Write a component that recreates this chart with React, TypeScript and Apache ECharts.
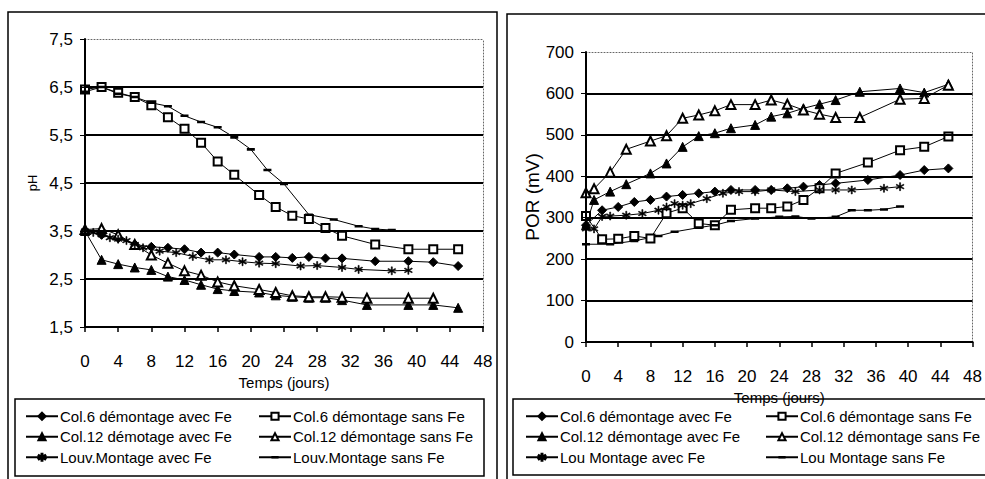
import { useEffect, useRef } from "react";
import * as echarts from "echarts";

// ---------- pH panel (left) ----------
const phCol6AvecDays = [0, 2, 4, 6, 8, 10, 12, 14, 16, 18, 21, 23, 25, 27, 29, 31, 35, 39, 42, 45];
const phCol6AvecVals = [3.5, 3.42, 3.35, 3.22, 3.17, 3.15, 3.12, 3.05, 3.05, 3.01, 2.96, 2.96, 2.94, 2.96, 2.93, 2.93, 2.87, 2.87, 2.85, 2.77];

const phCol6SansDays = [0, 2, 4, 6, 8, 10, 12, 14, 16, 18, 21, 23, 25, 27, 29, 31, 35, 39, 42, 45];
const phCol6SansVals = [6.45, 6.5, 6.38, 6.29, 6.12, 5.87, 5.63, 5.34, 4.95, 4.67, 4.25, 4.0, 3.82, 3.75, 3.56, 3.4, 3.22, 3.12, 3.12, 3.12];

const phCol12AvecDays = [0, 2, 4, 6, 8, 10, 12, 14, 16, 18, 21, 23, 25, 27, 29, 31, 34, 39, 42, 45];
const phCol12AvecVals = [3.5, 2.9, 2.81, 2.74, 2.69, 2.55, 2.48, 2.38, 2.29, 2.25, 2.22, 2.16, 2.13, 2.11, 2.11, 2.06, 1.96, 1.96, 1.96, 1.9];

const phCol12SansDays = [0, 2, 4, 6, 8, 10, 12, 14, 16, 18, 21, 23, 25, 27, 29, 31, 34, 39, 42];
const phCol12SansVals = [3.53, 3.55, 3.42, 3.22, 3.0, 2.83, 2.67, 2.58, 2.44, 2.36, 2.28, 2.22, 2.15, 2.13, 2.13, 2.12, 2.1, 2.1, 2.1];

const phLouvAvecDays = [0, 1, 2, 3, 4, 5, 6, 7, 9, 11, 13, 15, 17, 19, 21, 23, 26, 28, 31, 33, 37, 39];
const phLouvAvecVals = [3.5, 3.47, 3.42, 3.36, 3.33, 3.3, 3.22, 3.15, 3.08, 3.05, 2.97, 2.9, 2.9, 2.86, 2.83, 2.82, 2.77, 2.78, 2.74, 2.7, 2.67, 2.68];

const phLouvSansDays = [0, 2, 4, 6, 8, 10, 12, 14, 16, 18, 20, 22, 24, 27, 30, 33, 35, 37];
const phLouvSansVals = [6.4, 6.5, 6.36, 6.29, 6.17, 6.1, 5.9, 5.77, 5.66, 5.45, 5.2, 4.77, 4.48, 3.84, 3.74, 3.6, 3.54, 3.52];

// ---------- POR panel (right) ----------
const porCol6AvecDays = [0, 2, 4, 6, 8, 10, 12, 14, 16, 18, 21, 23, 25, 27, 29, 31, 35, 39, 42, 45];
const porCol6AvecVals = [282, 318, 326, 338, 343, 351, 355, 359, 363, 367, 367, 367, 371, 375, 379, 383, 391, 403, 415, 419];

const porCol6SansDays = [0, 2, 4, 6, 8, 10, 12, 14, 16, 18, 21, 23, 25, 27, 29, 31, 35, 39, 42, 45];
const porCol6SansVals = [304, 248, 249, 256, 250, 311, 323, 286, 282, 319, 323, 323, 327, 343, 371, 407, 433, 463, 471, 496];

const porCol12AvecDays = [0, 1, 3, 5, 8, 10, 12, 14, 16, 18, 21, 23, 25, 27, 29, 31, 34, 39, 42, 45];
const porCol12AvecVals = [282, 343, 363, 381, 407, 431, 471, 497, 504, 516, 524, 544, 552, 564, 574, 584, 604, 612, 602, 622];

const porCol12SansDays = [0, 1, 3, 5, 8, 10, 12, 14, 16, 18, 21, 23, 25, 27, 29, 31, 34, 39, 42, 45];
const porCol12SansVals = [360, 370, 410, 465, 485, 498, 540, 548, 558, 573, 573, 584, 574, 560, 550, 542, 542, 586, 588, 620];

const porLouAvecDays = [0, 1, 2, 3, 5, 7, 9, 10, 11, 12, 13, 15, 17, 19, 21, 23, 26, 29, 31, 33, 37, 39];
const porLouAvecVals = [273, 273, 303, 304, 306, 310, 318, 326, 334, 330, 334, 346, 359, 363, 363, 367, 363, 367, 367, 367, 371, 375];

const porLouSansDays = [0, 3, 6, 9, 11, 14, 16, 18, 21, 24, 26, 28, 31, 33, 35, 37, 39];
const porLouSansVals = [236, 236, 244, 256, 266, 276, 282, 292, 298, 302, 303, 298, 302, 318, 318, 320, 327];

// ---------- texts ----------
const phNames = [
  "Col.6 démontage avec Fe",
  "Col.6 démontage sans Fe",
  "Col.12 démotage avec Fe",
  "Col.12 démontage sans Fe",
  "Louv.Montage avec Fe",
  "Louv.Montage sans Fe",
];
const porNames = [
  "Col.6 démontage avec Fe",
  "Col.6 démontage sans Fe",
  "Col.12 démontage avec Fe",
  "Col.12 démontage sans Fe",
  "Lou Montage avec Fe",
  "Lou Montage sans Fe",
];
const xTitle = "Temps (jours)";
const phTitle = "pH";
const porTitle = "POR (mV)";

const SANS = "'Liberation Sans', Arial, sans-serif";

const STAR =
  "path://M4.4 0H5.6V10H4.4Z M0.97 1.98L9.63 6.98L9.03 8.02L0.37 3.02Z M0.37 6.98L9.03 1.98L9.63 3.02L0.97 8.02Z";
// short horizontal dash centred in a square box (corner points only set the box)
const DASH = "path://M0 3.4H10V6.6H0Z M0 0L0.01 0Z M0 10L0.01 10Z";

const markers: { symbol: string; size: number | number[]; border: number }[] = [
  { symbol: "diamond", size: 9, border: 1 },
  { symbol: "emptyRect", size: 8, border: 1 },
  { symbol: "triangle", size: 9, border: 1 },
  { symbol: "emptyTriangle", size: 9, border: 1 },
  { symbol: STAR, size: 8, border: 0.6 },
  { symbol: DASH, size: 8, border: 0 },
];

function zip(days: number[], vals: number[]) {
  return days.map((d, i) => [d, vals[i]]);
}

function mk(name: string, days: number[], vals: number[], k: number, idx: number) {
  return {
    type: "line",
    name,
    xAxisIndex: idx,
    yAxisIndex: idx,
    data: zip(days, vals),
    symbol: markers[k].symbol,
    symbolSize: markers[k].size,
    showSymbol: true,
    showAllSymbol: true,
    lineStyle: { color: "#000", width: 1 },
    itemStyle: { color: "#000", borderColor: "#000", borderWidth: markers[k].border },
    emphasis: { disabled: true },
    z: 3,
  };
}

const dotted = { show: true, onZero: false, lineStyle: { color: "#666", width: 1, type: [1, 2] } };

function xAxisBottom(idx: number, gap: number) {
  return {
    type: "value",
    gridIndex: idx,
    position: "bottom",
    min: 0,
    max: 48,
    interval: 4,
    name: xTitle,
    nameLocation: "middle",
    nameGap: gap,
    nameTextStyle: { color: "#000", fontSize: 15, fontFamily: SANS },
    axisLine: { show: true, onZero: false, lineStyle: { color: "#000", width: 2 } },
    axisTick: { show: true, length: 5, lineStyle: { color: "#000", width: 1.5 } },
    axisLabel: { color: "#000", fontSize: 17, fontFamily: SANS, margin: 26 },
    splitLine: { show: false },
    z: 4,
  };
}

function xAxisTop(idx: number) {
  return {
    type: "value",
    gridIndex: idx,
    position: "top",
    min: 0,
    max: 48,
    interval: 4,
    axisLine: dotted,
    axisTick: { show: false },
    axisLabel: { show: false },
    splitLine: { show: false },
  };
}

function yAxisRight(idx: number, min: number, max: number, interval: number) {
  return {
    type: "value",
    gridIndex: idx,
    position: "right",
    min,
    max,
    interval,
    axisLine: dotted,
    axisTick: { show: false },
    axisLabel: { show: false },
    splitLine: { show: false },
  };
}

const option = {
  animation: false,
  backgroundColor: "#fff",
  grid: [
    { left: 85, top: 39, width: 398, height: 288 },
    { left: 586, top: 52, width: 396, height: 290 },
  ],
  xAxis: [xAxisBottom(0, 45), xAxisBottom(1, 38), xAxisTop(0), xAxisTop(1)],
  yAxis: [
    {
      type: "value",
      gridIndex: 0,
      position: "left",
      min: 1.5,
      max: 7.5,
      interval: 1,
      name: phTitle,
      nameLocation: "middle",
      nameGap: 46,
      nameTextStyle: { color: "#000", fontSize: 13, fontFamily: SANS },
      axisLine: { show: true, lineStyle: { color: "#000", width: 2 } },
      axisTick: { show: true, length: 5, lineStyle: { color: "#000", width: 1 } },
      axisLabel: {
        color: "#000",
        fontSize: 17,
        fontFamily: SANS,
        margin: 12,
        formatter: (v: number) => v.toFixed(1).replace(".", ","),
      },
      splitLine: { show: true, showMinLine: false, showMaxLine: false, lineStyle: { color: "#000", width: 2 } },
      z: 4,
    },
    {
      type: "value",
      gridIndex: 1,
      position: "left",
      min: 0,
      max: 700,
      interval: 100,
      name: porTitle,
      nameLocation: "middle",
      nameGap: 44,
      nameTextStyle: { color: "#000", fontSize: 19, fontFamily: SANS },
      axisLine: { show: true, lineStyle: { color: "#000", width: 2 } },
      axisTick: { show: true, length: 5, lineStyle: { color: "#000", width: 1 } },
      axisLabel: { color: "#000", fontSize: 17, fontFamily: SANS, margin: 12 },
      splitLine: { show: true, showMinLine: false, showMaxLine: false, lineStyle: { color: "#000", width: 2 } },
      z: 4,
    },
    yAxisRight(0, 1.5, 7.5, 1),
    yAxisRight(1, 0, 700, 100),
  ],
  legend: [
    { names: [phNames[0], phNames[2], phNames[4]], left: 25 },
    { names: [phNames[1], phNames[3], phNames[5]], left: 258 },
    { names: [porNames[0], porNames[2], porNames[4]], left: 525 },
    { names: [porNames[1], porNames[3], porNames[5]], left: 765 },
  ].map((l) => ({
    data: l.names,
    left: l.left,
    top: 406,
    orient: "vertical",
    padding: 0,
    itemGap: 0,
    itemWidth: 32,
    itemHeight: 9,
    selectedMode: false,
    textStyle: { color: "#000", fontSize: 15, fontFamily: SANS, lineHeight: 20.5, padding: [0, 0, 0, -3] },
  })),
  graphic: [
    { type: "rect", shape: { x: 8, y: 12, width: 489, height: 480 }, style: { fill: "none", stroke: "#000", lineWidth: 1.5 }, silent: true },
    { type: "rect", shape: { x: 507, y: 14, width: 490, height: 480 }, style: { fill: "none", stroke: "#000", lineWidth: 1.5 }, silent: true },
    { type: "rect", shape: { x: 15, y: 399, width: 469, height: 77 }, style: { fill: "none", stroke: "#000", lineWidth: 1.5 }, silent: true },
    { type: "rect", shape: { x: 513, y: 399, width: 480, height: 76 }, style: { fill: "none", stroke: "#000", lineWidth: 1.5 }, silent: true },
  ],
  series: [
    mk(phNames[0], phCol6AvecDays, phCol6AvecVals, 0, 0),
    mk(phNames[1], phCol6SansDays, phCol6SansVals, 1, 0),
    mk(phNames[2], phCol12AvecDays, phCol12AvecVals, 2, 0),
    mk(phNames[3], phCol12SansDays, phCol12SansVals, 3, 0),
    mk(phNames[4], phLouvAvecDays, phLouvAvecVals, 4, 0),
    mk(phNames[5], phLouvSansDays, phLouvSansVals, 5, 0),
    mk(porNames[0], porCol6AvecDays, porCol6AvecVals, 0, 1),
    mk(porNames[1], porCol6SansDays, porCol6SansVals, 1, 1),
    mk(porNames[2], porCol12AvecDays, porCol12AvecVals, 2, 1),
    mk(porNames[3], porCol12SansDays, porCol12SansVals, 3, 1),
    mk(porNames[4], porLouAvecDays, porLouAvecVals, 4, 1),
    mk(porNames[5], porLouSansDays, porLouSansVals, 5, 1),
  ],
};

export default function App() {
  const ref = useRef<HTMLDivElement>(null);
  useEffect(() => {
    if (!ref.current) return;
    const chart = echarts.init(ref.current, null, { renderer: "svg" });
    chart.setOption(option as any);
    return () => chart.dispose();
  }, []);
  return (
    <div
      ref={ref}
      style={{ position: "absolute", left: 0, top: 0, width: 985, height: 479, background: "#fff" }}
    />
  );
}
